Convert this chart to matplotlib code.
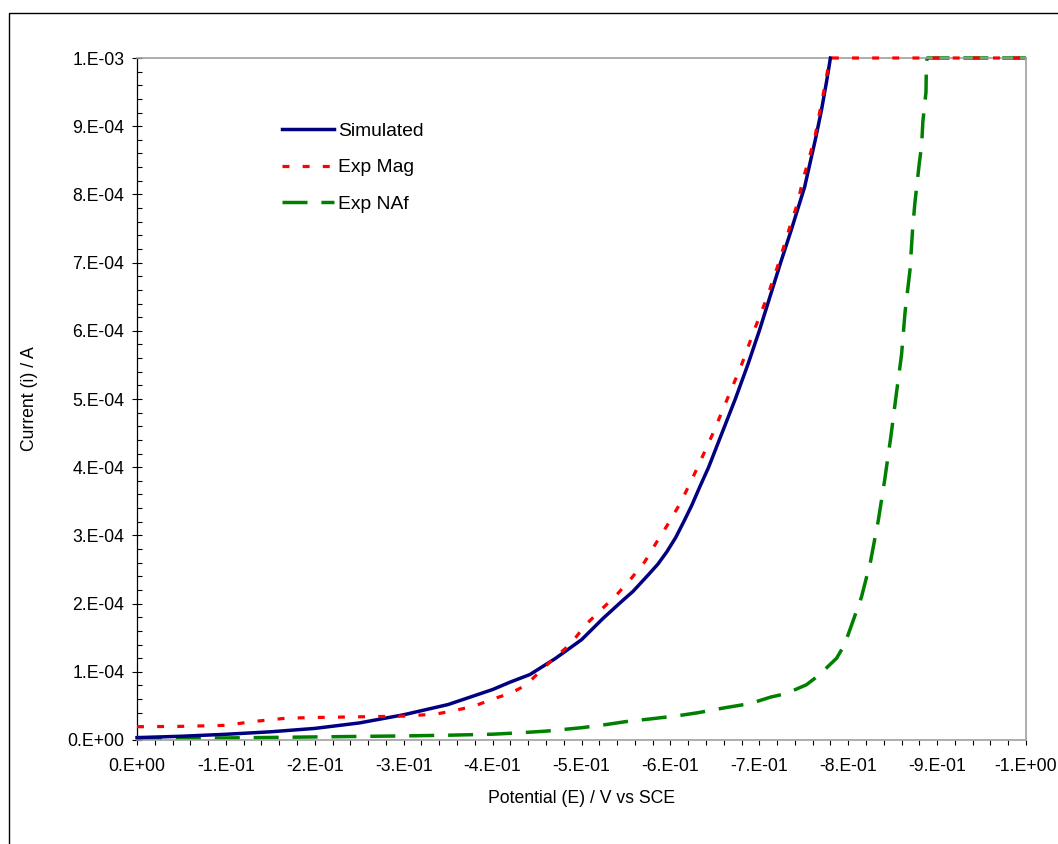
import numpy as np
import matplotlib
matplotlib.use("Agg")
import matplotlib.pyplot as plt
from matplotlib.ticker import MultipleLocator, FuncFormatter
from matplotlib.patches import Rectangle

plt.rcParams['font.family'] = ['Liberation Sans', 'DejaVu Sans']
plt.rcParams['lines.scale_dashes'] = False

# Simulated curve (potential in V vs SCE, current in A)
sim_E = [0.0, -0.05, -0.1, -0.15, -0.2, -0.25, -0.3, -0.35, -0.4, -0.42, -0.442,
         -0.47, -0.5, -0.524, -0.545, -0.558, -0.575, -0.586, -0.596, -0.606, -0.615,
         -0.624, -0.633, -0.643, -0.658, -0.673, -0.687, -0.700, -0.712, -0.724, -0.736,
         -0.751, -0.763, -0.770, -0.776, -0.780]
sim_i = [0.35e-5, 0.55e-5, 0.84e-5, 1.2e-5, 1.7e-5, 2.5e-5, 3.7e-5, 5.2e-5, 7.4e-5, 8.5e-5, 9.6e-5,
         1.19e-4, 1.47e-4, 1.78e-4, 2.03e-4, 2.18e-4, 2.42e-4, 2.58e-4, 2.76e-4, 2.97e-4, 3.2e-4,
         3.44e-4, 3.71e-4, 4.0e-4, 4.5e-4, 5.0e-4, 5.5e-4, 6.0e-4, 6.5e-4, 7.0e-4, 7.48e-4,
         8.11e-4, 8.8e-4, 9.24e-4, 9.68e-4, 1.0e-3]

# Experimental, Mag
mag_E = [0.0, -0.05, -0.1, -0.13, -0.168, -0.2, -0.25, -0.3, -0.336, -0.355, -0.38,
         -0.4, -0.42, -0.437, -0.453, -0.469, -0.488, -0.504, -0.522, -0.539, -0.556,
         -0.571, -0.584, -0.598, -0.611, -0.622, -0.631, -0.648, -0.664, -0.680,
         -0.694, -0.709, -0.722, -0.7345, -0.743, -0.749, -0.756, -0.763, -0.768,
         -0.7728, -0.778, -0.780, -1.0]
mag_i = [1.95e-5, 2.0e-5, 2.15e-5, 2.7e-5, 3.2e-5, 3.3e-5, 3.4e-5, 3.5e-5, 3.8e-5, 4.25e-5, 5.0e-5,
         6.0e-5, 6.85e-5, 8.0e-5, 1.0e-4, 1.2e-4, 1.41e-4, 1.68e-4, 1.91e-4, 2.12e-4, 2.37e-4,
         2.61e-4, 2.89e-4, 3.18e-4, 3.47e-4, 3.76e-4, 4.01e-4, 4.5e-4, 5.0e-4, 5.5e-4,
         6.0e-4, 6.5e-4, 7.0e-4, 7.53e-4, 7.87e-4, 8.21e-4, 8.53e-4, 8.87e-4, 9.21e-4,
         9.53e-4, 9.9e-4, 1.0e-3, 1.0e-3]

# Experimental, NAf
naf_E = [0.0, -0.1, -0.2, -0.3, -0.35, -0.4, -0.43, -0.46, -0.5, -0.527, -0.55,
         -0.578, -0.608, -0.631, -0.66, -0.69, -0.713, -0.73, -0.753, -0.767, -0.787,
         -0.796, -0.808, -0.815, -0.825, -0.834, -0.841, -0.848, -0.854, -0.860,
         -0.864, -0.8695, -0.8725, -0.875, -0.877, -0.880, -0.8826, -0.884, -0.8875,
         -0.888, -0.889, -1.0]
naf_i = [0.25e-5, 0.3e-5, 0.45e-5, 0.6e-5, 0.7e-5, 0.85e-5, 1.05e-5, 1.3e-5, 1.8e-5, 2.25e-5, 2.7e-5,
         3.1e-5, 3.55e-5, 4.0e-5, 4.7e-5, 5.35e-5, 6.3e-5, 6.8e-5, 8.1e-5, 9.5e-5, 1.2e-4,
         1.4e-4, 1.84e-4, 2.1e-4, 2.61e-4, 3.23e-4, 3.81e-4, 4.45e-4, 5.06e-4, 5.65e-4,
         6.28e-4, 6.89e-4, 7.5e-4, 7.87e-4, 8.11e-4, 8.46e-4, 8.72e-4, 9.07e-4, 9.5e-4,
         9.95e-4, 1.0e-3, 1.0e-3]

W, H = 1058, 844
fig = plt.figure(figsize=(W / 100, H / 100), dpi=100)
ax = fig.add_axes([137 / W, (H - 740) / H, 889 / W, 682 / H])

# outer chart frame (cropped on the right and bottom)
fig.patches.append(Rectangle((8.5 / W, -0.5), 2.0, 0.5 + 1 - 12.5 / H, transform=fig.transFigure,
                             fill=False, edgecolor='black', linewidth=1.0))

ax.plot(sim_E, sim_i, color='#000080', lw=2.5, label='Simulated', clip_on=False, zorder=3)
ax.plot(mag_E, mag_i, color='#FF0000', lw=2.3, dashes=(5, 9.5), label='Exp Mag', clip_on=False, zorder=4)
ax.plot(naf_E, naf_i, color='#008000', lw=2.5, dashes=(18, 10), label='Exp NAf', clip_on=False, zorder=2)

ax.set_xlim(0, -1.0)
ax.set_ylim(0, 1.0e-3)

def sci_fmt(v, pos):
    return f"{v:.0e}".replace('e', '.E')

ax.xaxis.set_major_locator(MultipleLocator(0.1))
ax.xaxis.set_minor_locator(MultipleLocator(0.02))
ax.yaxis.set_major_locator(MultipleLocator(1e-4))
ax.yaxis.set_minor_locator(MultipleLocator(2e-5))
ax.xaxis.set_major_formatter(FuncFormatter(sci_fmt))
ax.yaxis.set_major_formatter(FuncFormatter(sci_fmt))

ax.tick_params(axis='x', which='both', direction='out', length=3.6, width=0.8, labelsize=12.7, pad=9.5)
ax.tick_params(axis='y', which='major', direction='inout', length=6.5, width=0.8, labelsize=12.7, pad=6)
ax.tick_params(axis='y', which='minor', direction='in', length=3.4, width=0.8)

for s in ['top', 'right', 'bottom']:
    ax.spines[s].set_color('#A0A0A0')
    ax.spines[s].set_linewidth(1.2)
ax.spines['left'].set_color('black')
ax.spines['left'].set_linewidth(0.9)

ax.set_xlabel('Potential (E) / V vs SCE', fontsize=12.7, labelpad=11)
ax.set_ylabel('Current (i) / A', fontsize=12.7, labelpad=21)

ax.legend(loc='upper left', bbox_to_anchor=(282 / W, 1 - 122 / H), bbox_transform=fig.transFigure,
          frameon=False, fontsize=13.9, handlelength=2.7, handletextpad=0.22,
          labelspacing=1.0, borderpad=0, borderaxespad=0)

fig.savefig('out.png', dpi=100)
